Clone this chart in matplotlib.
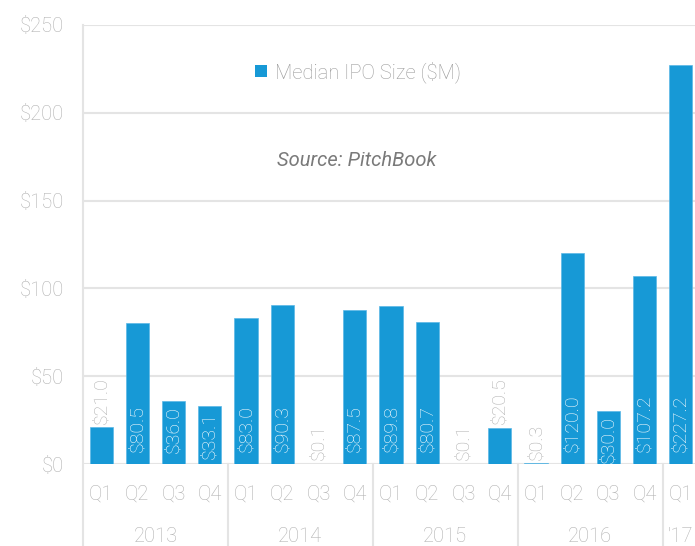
"""Median IPO size by quarter, 2013 - Q1 2017."""
import matplotlib
matplotlib.use('Agg')
import matplotlib.pyplot as plt
import matplotlib.patches as mpatches
import matplotlib.transforms as mtrans

plt.rcParams['font.family'] = ['Roboto', 'DejaVu Sans']
plt.rcParams['font.weight'] = 'light'

quarters = ['Q1', 'Q2', 'Q3', 'Q4', 'Q1', 'Q2', 'Q3', 'Q4', 'Q1', 'Q2', 'Q3', 'Q4',
            'Q1', 'Q2', 'Q3', 'Q4', 'Q1']
ipo_size = [21.0, 80.5, 36.0, 33.1, 83.0, 90.3, 0.1, 87.5, 89.8, 80.7, 0.1, 20.5,
            0.3, 120.0, 30.0, 107.2, 227.2]
years = ['2013', '2014', '2015', '2016', "'17"]
year_centers = [1.5, 5.5, 9.5, 13.5, 16]
year_breaks = [-0.5, 3.5, 7.5, 11.5, 15.5]
y_ticks = [0, 50, 100, 150, 200, 250]

BAR = '#1799d6'
GRID = '#e4e4e4'
TXT = '#b0b0b0'

fig = plt.figure(figsize=(6.95, 5.46), dpi=100, facecolor='white')
ax = fig.add_axes([83 / 695, 82 / 546, 1 - 83 / 695, 439 / 546])

x = list(range(len(ipo_size)))
ax.bar(x, ipo_size, width=0.64, color=BAR, edgecolor='#5bb8e6', linewidth=0.5, zorder=3)

ax.set_xlim(-0.5, 16.39)
ax.set_ylim(0, 250)
ax.set_yticks(y_ticks)
ax.set_yticklabels([f'${v}' for v in y_ticks])
ax.grid(axis='y', color=GRID, linewidth=1.5, zorder=0)
ax.tick_params(axis='y', length=0, pad=14, labelsize=14.5, labelcolor=TXT)
ax.set_xticks(x)
ax.set_xticklabels(quarters)
ax.tick_params(axis='x', length=0, pad=15, labelsize=14.5, labelcolor=TXT)
for s in ['top', 'right', 'bottom', 'left']:
    ax.spines[s].set_visible(False)

# year separators below the axis, left one running full height
trans = mtrans.blended_transform_factory(ax.transData, ax.transAxes)
for i, b in enumerate(year_breaks):
    y0 = 1.0 if i == 0 else 0.0
    ax.plot([b, b], [y0, -0.2], transform=trans, color=GRID, lw=1.5, clip_on=False, zorder=1)
for yc, lab in zip(year_centers, years):
    ax.text(yc, -0.166, lab, transform=trans, ha='center', va='center',
            fontsize=14.5, color=TXT)

# value labels
for xi, v in zip(x, ipo_size):
    if v >= 25:
        yb = max(0.8, min(7, v - 30))
        ax.text(xi, yb, f'${v:.1f}', rotation=90, ha='center', va='bottom',
                fontsize=14, color='white', zorder=4)
    else:
        ax.text(xi, v + 2, f'${v:.1f}', rotation=90, ha='center', va='bottom',
                fontsize=14, color=TXT, zorder=4)

handle = mpatches.Patch(facecolor=BAR, label='Median IPO Size ($M)')
fig.legend(handles=[handle], loc='center', bbox_to_anchor=(358 / 695, 1 - 72 / 546),
           frameon=False, fontsize=14.5, labelcolor='#9a9a9a', handlelength=0.6,
           handleheight=0.6, handletextpad=0.4)

fig.text(357 / 695, 1 - 160 / 546, 'Source: PitchBook', ha='center', va='center',
         fontsize=14.5, style='italic', fontweight='normal', color='#7a7a7a')

fig.savefig('out.png', dpi=100, facecolor='white')
